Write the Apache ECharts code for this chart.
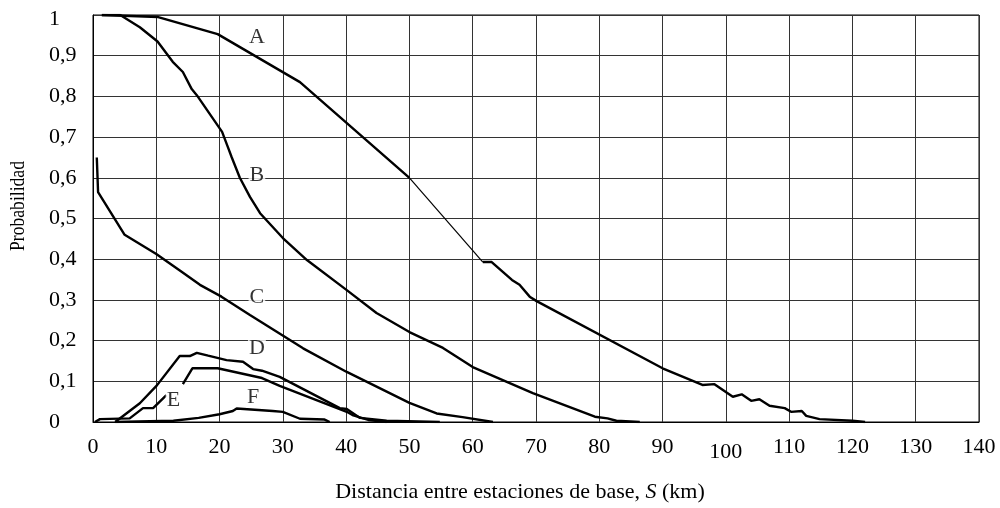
<!DOCTYPE html>
<html>
<head>
<meta charset="utf-8">
<script src="https://cdn.jsdelivr.net/npm/echarts@6/dist/echarts.min.js"></script>
<style>
html,body{margin:0;padding:0;background:#fff;}
#chart{width:1000px;height:508px;}
</style>
</head>
<body>
<div id="chart"></div>
<script>
// Curve data [distance km, probability]
const curveA1 = [[1.4,1],[10.3,0.995],[19.7,0.953],[32.7,0.835],[50,0.6]];
const curveA2 = [[50,0.6],[61.6,0.393]];
const curveA3 = [[61.6,0.393],[63,0.393],[66.2,0.349],[67.4,0.337],[69,0.308],[70.1,0.297],[90,0.132],[96.3,0.091],[98.2,0.093],[101.1,0.062],[102.5,0.068],[104,0.052],[105.3,0.056],[106.9,0.04],[109.3,0.034],[110.3,0.025],[112,0.027],[112.7,0.015],[114.8,0.007],[120,0.003],[122,0]];
const curveB = [[1.4,1],[4.3,1],[7.4,0.97],[10.2,0.935],[12.6,0.885],[14.2,0.86],[15.6,0.818],[16.4,0.803],[20.4,0.713],[21.3,0.676],[21.9,0.651],[23.2,0.6],[24.8,0.553],[26.4,0.513],[30,0.452],[33.8,0.398],[40.1,0.324],[44.8,0.268],[50,0.221],[55.3,0.182],[60,0.135],[69.5,0.071],[79.3,0.013],[81.3,0.009],[82.7,0.003],[86.4,0]];
const curveC = [[0.6,0.65],[0.8,0.565],[5,0.46],[10,0.413],[14,0.369],[16.9,0.337],[20.3,0.308],[24.8,0.263],[33.2,0.181],[40.1,0.123],[50,0.047],[54.3,0.021],[58.4,0.012],[63.2,0]];
const curveD = [[3.5,0],[7.4,0.046],[10.1,0.09],[13.7,0.162],[15.3,0.162],[16.4,0.17],[18.2,0.163],[21.1,0.152],[23.7,0.148],[25.3,0.13],[26.7,0.126],[29.5,0.111],[39,0.034],[40.1,0.032],[42.2,0.01],[46.4,0.003],[54.8,0]];
const curveE1 = [[0.3,0],[1.1,0.007],[5.8,0.009],[7.9,0.034],[9.5,0.034],[11.6,0.066]];
const curveE2 = [[14.2,0.093],[15.7,0.132],[19.7,0.132],[26.7,0.108],[29.5,0.089],[40.1,0.025],[41,0.017],[43.5,0.005],[46.4,0]];
const curveF = [[3.5,0],[12.7,0.003],[16.7,0.01],[20,0.019],[22.1,0.027],[22.7,0.033],[28.4,0.027],[30,0.025],[32.7,0.008],[36.6,0.006],[37.4,0]];

// Curve labels
const labelNames = ['A','B','C','D','E','F'];
const labelX = [25.9,25.9,25.9,25.9,12.7,25.3];
const labelY = [0.946,0.607,0.307,0.181,0.054,0.062];

const xTitle = 'Distancia entre estaciones de base, ';
const yTitle = 'Probabilidad';

const FONT = '"Liberation Serif", "Times New Roman", serif';

const chart = echarts.init(document.getElementById('chart'), null, {renderer:'canvas'});

function lineSeries(data, width) {
  return {
    type: 'line', data: data, symbol: 'none', showSymbol: false,
    lineStyle: {color: '#000', width: width}, silent: true, z: 3,
    animation: false
  };
}

const series = [
  lineSeries(curveA1, 2.4), lineSeries(curveA2, 1.2), lineSeries(curveA3, 2.4),
  lineSeries(curveB, 2.4), lineSeries(curveC, 2.4), lineSeries(curveD, 2.4),
  lineSeries(curveE1, 2.4), lineSeries(curveE2, 2.4), lineSeries(curveF, 2.4),
  {
    type: 'scatter', symbolSize: 1, itemStyle: {color: 'rgba(0,0,0,0)'}, z: 4,
    data: labelNames.map((n, i) => ({name: n, value: [labelX[i], labelY[i]]})),
    label: {
      show: true, position: 'inside', formatter: '{b}', color: '#000',
      fontFamily: FONT, fontSize: 22, backgroundColor: '#fff', padding: [0, 1, 0, 1]
    },
    animation: false, silent: true
  }
];

chart.setOption({
  animation: false,
  backgroundColor: '#fff',
  grid: {left: 93, right: 21, top: 15, bottom: 86, show: true, borderColor: '#000', borderWidth: 1},
  xAxis: {
    type: 'value', min: 0, max: 140, interval: 10,
    axisLine: {show: true, lineStyle: {color: '#000', width: 1}},
    axisTick: {show: false},
    splitLine: {show: true, lineStyle: {color: '#333', width: 1}},
    axisLabel: {
      color: '#000', fontFamily: FONT, fontSize: 22, margin: 14,
      formatter: function (v) { return v === 100 ? '{low|100}' : String(v); },
      rich: {low: {fontFamily: FONT, fontSize: 22, color: '#000', padding: [5, 0, 0, 0]}}
    }
  },
  yAxis: {
    type: 'value', min: 0, max: 1, interval: 0.1,
    axisLine: {show: true, lineStyle: {color: '#000', width: 1}},
    axisTick: {show: false},
    splitLine: {show: true, lineStyle: {color: '#333', width: 1}},
    axisLabel: {
      color: '#000', fontFamily: FONT, fontSize: 22, margin: 44, align: 'left',
      formatter: function (v) {
        if (Math.abs(v - 1) < 1e-9) return '{top|1}';
        if (Math.abs(v) < 1e-9) return '0';
        return v.toFixed(1).replace('.', ',');
      },
      rich: {top: {fontFamily: FONT, fontSize: 22, color: '#000', padding: [8, 0, 0, 0]}}
    }
  },
  graphic: [
    {
      type: 'text', x: 520, y: 492, silent: true,
      style: {
        text: xTitle + '{i|S} (km)', fill: '#000', font: '22px ' + FONT,
        align: 'center', verticalAlign: 'middle',
        rich: {i: {fontFamily: FONT, fontSize: 22, fontStyle: 'italic', fill: '#000'}}
      }
    },
    {
      type: 'text', x: 18, y: 206, rotation: Math.PI / 2, scaleX: 0.8, silent: true,
      style: {
        text: yTitle, fill: '#000', font: '22px ' + FONT,
        align: 'center', verticalAlign: 'middle'
      }
    }
  ],
  series: series
});
</script>
</body>
</html>
